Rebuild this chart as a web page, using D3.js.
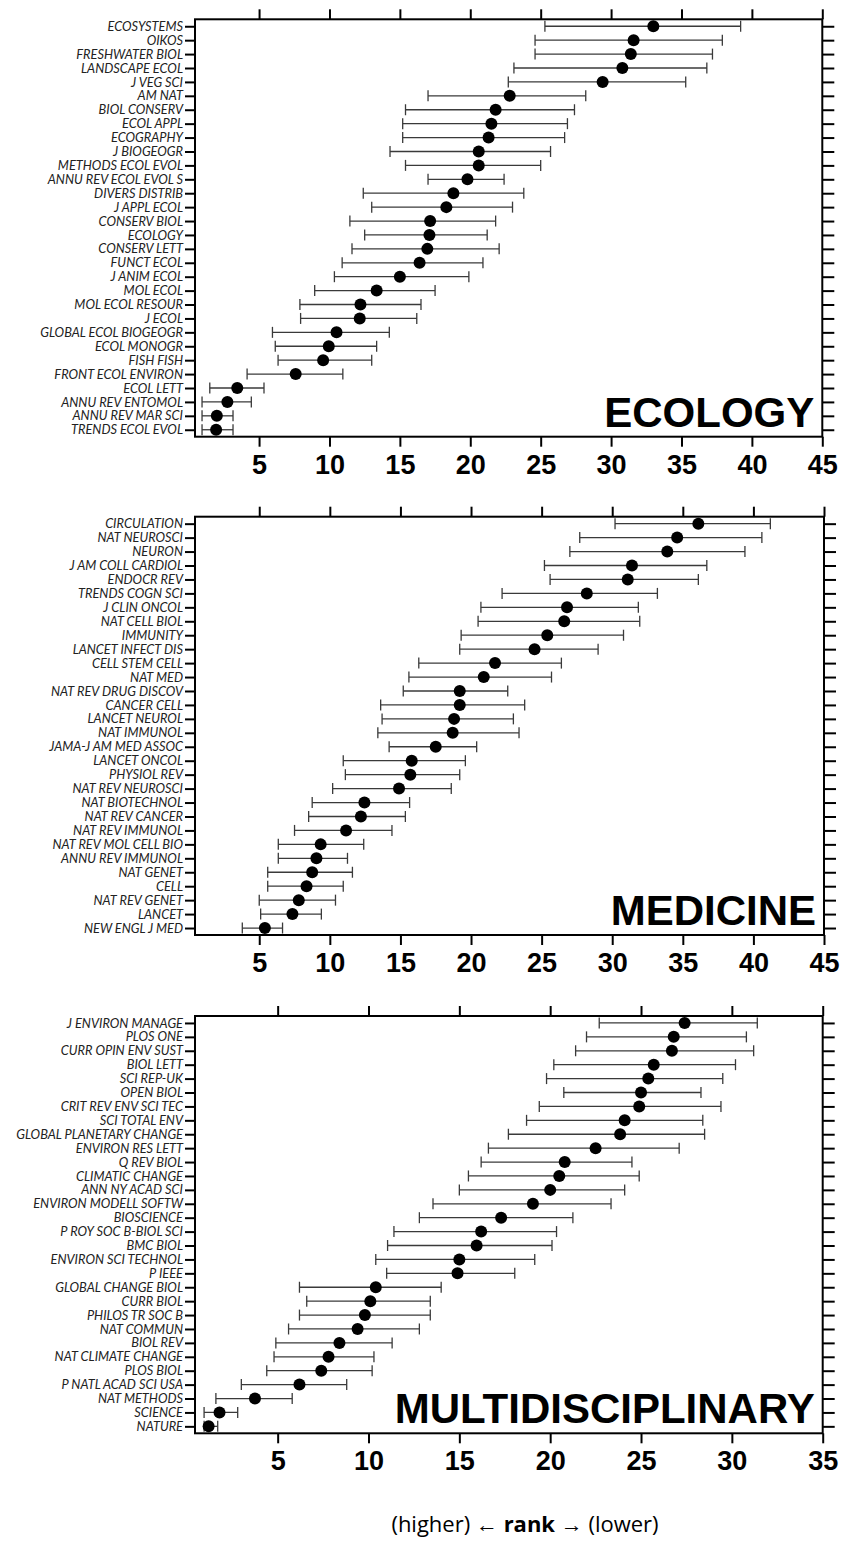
<!DOCTYPE html>
<html>
<head>
<meta charset="utf-8">
<script src="https://cdn.jsdelivr.net/npm/d3@7"></script>
<style>
  body { margin: 0; background: #fff; }
  .ylab text { font-family: Lato, sans-serif; font-style: italic; font-size: 12.8px; fill: #222; }
  .xlab text { font-family: 'Liberation Sans', Arial, sans-serif; font-weight: bold; font-size: 27px; fill: #000; }
  .axis path, .axis line { stroke: #000; stroke-width: 2; }
  .bar { stroke: #3a3a3a; stroke-width: 1.3; }
  .title { font-family: 'Liberation Sans', Arial, sans-serif; font-weight: bold; font-size: 42px; }
</style>
</head>
<body>
<div id="root"></div>
<script>
// ecology
const ecoNames = ['ECOSYSTEMS', 'OIKOS', 'FRESHWATER BIOL', 'LANDSCAPE ECOL', 'J VEG SCI', 'AM NAT',
  'BIOL CONSERV', 'ECOL APPL', 'ECOGRAPHY', 'J BIOGEOGR', 'METHODS ECOL EVOL', 'ANNU REV ECOL EVOL S',
  'DIVERS DISTRIB', 'J APPL ECOL', 'CONSERV BIOL', 'ECOLOGY', 'CONSERV LETT', 'FUNCT ECOL', 'J ANIM ECOL',
  'MOL ECOL', 'MOL ECOL RESOUR', 'J ECOL', 'GLOBAL ECOL BIOGEOGR', 'ECOL MONOGR', 'FISH FISH',
  'FRONT ECOL ENVIRON', 'ECOL LETT', 'ANNU REV ENTOMOL', 'ANNU REV MAR SCI', 'TRENDS ECOL EVOL'];
const ecoRank = [33.0, 31.6, 31.4, 30.8, 29.4, 22.8, 21.8, 21.5, 21.3, 20.6, 20.6, 19.8, 18.8, 18.3, 17.15,
  17.1, 16.95, 16.4, 15.0, 13.35, 12.2, 12.15, 10.5, 9.95, 9.55, 7.6, 3.45, 2.75, 2.0, 1.95];
const ecoLow = [25.3, 24.6, 24.6, 23.1, 22.7, 17.0, 15.4, 15.2, 15.2, 14.3, 15.4, 17.0, 12.4, 13.0, 11.45,
  12.5, 11.6, 10.9, 10.35, 8.95, 7.9, 7.95, 5.95, 6.15, 6.35, 4.15, 1.5, 0.95, 0.95, 0.95];
const ecoHigh = [39.2, 37.9, 37.2, 36.8, 35.3, 28.2, 27.4, 26.9, 26.7, 25.7, 25.0, 22.4, 23.8, 23.0, 21.8,
  21.2, 22.05, 20.9, 19.9, 17.5, 16.5, 16.2, 14.25, 13.35, 13.0, 10.95, 5.35, 4.45, 3.15, 3.15];

// medicine
const medNames = ['CIRCULATION', 'NAT NEUROSCI', 'NEURON', 'J AM COLL CARDIOL', 'ENDOCR REV',
  'TRENDS COGN SCI', 'J CLIN ONCOL', 'NAT CELL BIOL', 'IMMUNITY', 'LANCET INFECT DIS', 'CELL STEM CELL',
  'NAT MED', 'NAT REV DRUG DISCOV', 'CANCER CELL', 'LANCET NEUROL', 'NAT IMMUNOL', 'JAMA-J AM MED ASSOC',
  'LANCET ONCOL', 'PHYSIOL REV', 'NAT REV NEUROSCI', 'NAT BIOTECHNOL', 'NAT REV CANCER', 'NAT REV IMMUNOL',
  'NAT REV MOL CELL BIO', 'ANNU REV IMMUNOL', 'NAT GENET', 'CELL', 'NAT REV GENET', 'LANCET', 'NEW ENGL J MED'];
const medRank = [36.1, 34.6, 33.9, 31.4, 31.1, 28.2, 26.8, 26.6, 25.4, 24.5, 21.7, 20.9, 19.2, 19.2, 18.8,
  18.7, 17.5, 15.8, 15.7, 14.9, 12.45, 12.2, 11.15, 9.35, 9.05, 8.75, 8.35, 7.8, 7.35, 5.4];
const medLow = [30.2, 27.7, 27.0, 25.2, 25.6, 22.2, 20.7, 20.5, 19.3, 19.2, 16.3, 15.6, 15.2, 13.6, 13.7,
  13.4, 14.2, 10.95, 11.1, 10.2, 8.75, 8.5, 7.5, 6.35, 6.35, 5.6, 5.6, 5.0, 5.1, 3.8];
const medHigh = [41.2, 40.6, 39.4, 36.7, 36.1, 33.2, 31.85, 31.95, 30.8, 29.0, 26.4, 25.7, 22.6, 23.8, 23.0,
  23.4, 20.4, 19.6, 19.2, 18.6, 15.65, 15.35, 14.4, 12.4, 11.25, 11.6, 10.95, 10.4, 9.4, 6.65];

// multidisciplinary
const mulNames = ['J ENVIRON MANAGE', 'PLOS ONE', 'CURR OPIN ENV SUST', 'BIOL LETT', 'SCI REP-UK', 'OPEN BIOL',
  'CRIT REV ENV SCI TEC', 'SCI TOTAL ENV', 'GLOBAL PLANETARY CHANGE', 'ENVIRON RES LETT', 'Q REV BIOL',
  'CLIMATIC CHANGE', 'ANN NY ACAD SCI', 'ENVIRON MODELL SOFTW', 'BIOSCIENCE', 'P ROY SOC B-BIOL SCI',
  'BMC BIOL', 'ENVIRON SCI TECHNOL', 'P IEEE', 'GLOBAL CHANGE BIOL', 'CURR BIOL', 'PHILOS TR SOC B',
  'NAT COMMUN', 'BIOL REV', 'NAT CLIMATE CHANGE', 'PLOS BIOL', 'P NATL ACAD SCI USA', 'NAT METHODS',
  'SCIENCE', 'NATURE'];
const mulRank = [27.4, 26.8, 26.7, 25.7, 25.4, 25.0, 24.9, 24.1, 23.85, 22.5, 20.8, 20.5, 20.0, 19.05, 17.3,
  16.2, 15.95, 15.0, 14.9, 10.4, 10.1, 9.8, 9.4, 8.4, 7.8, 7.4, 6.2, 3.75, 1.8, 1.2];
const mulLow = [22.7, 22.0, 21.4, 20.2, 19.8, 20.75, 19.4, 18.7, 17.7, 16.6, 16.2, 15.5, 15.0, 13.55, 12.8,
  11.4, 11.05, 10.4, 11.0, 6.2, 6.6, 6.2, 5.6, 4.9, 4.8, 4.4, 3.0, 1.6, 0.95, 0.95];
const mulHigh = [31.4, 30.8, 31.2, 30.2, 29.5, 28.3, 29.4, 28.4, 28.5, 27.1, 24.5, 24.9, 24.1, 23.35, 21.25,
  20.35, 20.1, 19.15, 18.05, 14.0, 13.4, 13.4, 12.8, 11.3, 10.3, 10.2, 8.8, 5.8, 2.8, 1.7];

const ticks45 = [5, 10, 15, 20, 25, 30, 35, 40, 45];
const ticks35 = [5, 10, 15, 20, 25, 30, 35];

const width = 843;
const height = 1542;

const panels = [
  { title: 'ECOLOGY', names: ecoNames, rank: ecoRank, low: ecoLow, high: ecoHigh,
    max: 45, ticks: ticks45, top: 19.3, bottom: 436.7, right: 822.3 },
  { title: 'MEDICINE', names: medNames, rank: medRank, low: medLow, high: medHigh,
    max: 45, ticks: ticks45, top: 516.7, bottom: 935, right: 824 },
  { title: 'MULTIDISCIPLINARY', names: mulNames, rank: mulRank, low: mulLow, high: mulHigh,
    max: 35, ticks: ticks35, top: 1016, bottom: 1433.3, right: 822.7 },
];
const left = 195;
const minRank = 0.45;
const capHalf = 5.5;
const dotR = 6;

const svg = d3.select('#root').append('svg')
  .attr('width', width)
  .attr('height', height);

svg.append('rect').attr('width', width).attr('height', height).attr('fill', '#fff');

panels.forEach(p => {
  const x = d3.scaleLinear().domain([minRank, p.max]).range([left, p.right]);
  const y = d3.scalePoint().domain(p.names).range([p.top, p.bottom]).padding(0.5);
  const rows = p.names.map((n, i) => ({ name: n, rank: p.rank[i], low: p.low[i], high: p.high[i] }));

  const g = svg.append('g');

  // error bars
  const bars = g.append('g').selectAll('g').data(rows).join('g')
    .attr('transform', d => `translate(0 ${y(d.name)})`);
  bars.append('line').attr('class', 'bar')
    .attr('x1', d => x(d.low)).attr('x2', d => x(d.high));
  bars.append('line').attr('class', 'bar')
    .attr('x1', d => x(d.low)).attr('x2', d => x(d.low))
    .attr('y1', -capHalf).attr('y2', capHalf);
  bars.append('line').attr('class', 'bar')
    .attr('x1', d => x(d.high)).attr('x2', d => x(d.high))
    .attr('y1', -capHalf).attr('y2', capHalf);
  bars.append('circle')
    .attr('cx', d => x(d.rank)).attr('r', dotR).attr('fill', '#000');

  // axes
  g.append('g').attr('class', 'axis xlab')
    .attr('transform', `translate(0 ${p.bottom})`)
    .call(d3.axisBottom(x).tickValues(p.ticks).tickSize(10).tickSizeOuter(0).tickPadding(8))
    .call(a => a.select('.domain').remove());
  g.append('g').attr('class', 'axis')
    .attr('transform', `translate(0 ${p.top})`)
    .call(d3.axisTop(x).tickValues(p.ticks).tickSize(10).tickFormat(''))
    .call(a => a.select('.domain').remove());
  g.append('g').attr('class', 'axis ylab')
    .attr('transform', `translate(${left} 0)`)
    .call(d3.axisLeft(y).tickSize(10).tickSizeOuter(0).tickPadding(2))
    .call(a => a.select('.domain').remove());
  g.append('g').attr('class', 'axis')
    .attr('transform', `translate(${p.right} 0)`)
    .call(d3.axisRight(y).tickSize(12).tickFormat(''))
    .call(a => a.select('.domain').remove());

  g.append('rect')
    .attr('x', left).attr('y', p.top)
    .attr('width', p.right - left).attr('height', p.bottom - p.top)
    .attr('fill', 'none').attr('stroke', '#000').attr('stroke-width', 2);

  g.append('text').attr('class', 'title')
    .attr('x', p.right - 8).attr('y', p.bottom - 10)
    .attr('text-anchor', 'end')
    .text(p.title);
});

// x axis title
const xt = svg.append('text')
  .attr('x', 525).attr('y', 1532)
  .attr('text-anchor', 'middle')
  .style('font-family', "'Open Sans', sans-serif")
  .style('font-size', '22px');
xt.append('tspan').text('(higher) \u2190 ');
xt.append('tspan').style('font-weight', 'bold').text('rank');
xt.append('tspan').text(' \u2192 (lower)');
</script>
</body>
</html>
